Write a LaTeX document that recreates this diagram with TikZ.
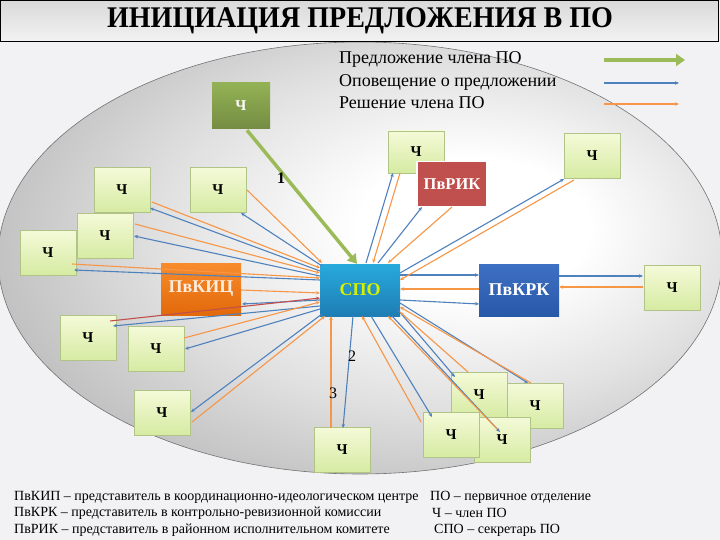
\documentclass[tikz,border=0pt]{standalone}
\usepackage{fontspec}
\setmainfont{Liberation Serif}
\usetikzlibrary{calc,arrows.meta,shadings}
\definecolor{bgc}{HTML}{F2F2F4}
\definecolor{ogreen}{HTML}{9BBB59}
\definecolor{oblue}{HTML}{4F81BD}
\definecolor{oorange}{HTML}{F79646}
\definecolor{ored}{HTML}{C0504D}
\definecolor{boxtop}{HTML}{F4FAD8}
\definecolor{boxbot}{HTML}{D6EBA2}
\definecolor{boxdraw}{HTML}{AFC486}
\definecolor{spotext}{HTML}{D8F000}
\definecolor{spotop}{RGB}{40,170,220}
\definecolor{spobot}{RGB}{30,125,180}
\definecolor{kictop}{RGB}{248,140,45}
\definecolor{kicbot}{RGB}{226,105,10}
\definecolor{kictext}{RGB}{255,236,220}
\definecolor{krktop}{RGB}{62,112,195}
\definecolor{krkbot}{RGB}{40,88,168}
\pgfdeclareradialshading{ellsh}{\pgfpoint{9bp}{4bp}}{color(0bp)=(white); color(8bp)=(white); color(20bp)=(black!12); color(30bp)=(black!24); color(40bp)=(black!32); color(50bp)=(black!38); color(62bp)=(black!41)}
\tikzset{
 chbox/.style={draw=boxdraw, top color=boxtop, bottom color=boxbot, minimum width=56pt, minimum height=45pt, inner sep=0pt, font=\fontsize{15}{15}\selectfont\bfseries},
 bigbox/.style={minimum width=80pt, minimum height=52pt, inner sep=0pt, font=\fontsize{18}{18}\selectfont\bfseries},
 bl/.style={draw=oblue, line width=1.1pt, -{Stealth[length=4pt,width=3.5pt]}},
 orr/.style={draw=oorange, line width=1.1pt, -{Stealth[length=4pt,width=3.5pt]}},
 rd/.style={draw=ored, line width=1.1pt, -{Stealth[length=4pt,width=3.5pt]}},
 legtext/.style={anchor=west, inner sep=0pt, font=\fontsize{18}{18}\selectfont},
 foot/.style={anchor=west, inner sep=0pt, font=\fontsize{14}{14}\selectfont},
 numlab/.style={inner sep=0pt, font=\fontsize{16}{16}\selectfont}
}
\begin{document}
\begin{tikzpicture}[x=1pt,y=-1pt]
\useasboundingbox (0,0) rectangle (720,540);
\fill[bgc] (0,0) rectangle (720,540);
% ellipse
\shade[shading=ellsh] (360,258) ellipse [x radius=362, y radius=216];
\draw[black!55, line width=0.6pt] (360,258) ellipse [x radius=362, y radius=216];
% title bar
\shade[top color=gray!30, bottom color=gray!10] (0,0) rectangle (718,41);
\draw[black, line width=0.8pt] (0,0) rectangle (718,41);
\node[inner sep=0pt, xscale=0.935, transform shape, font=\fontsize{30}{30}\selectfont\bfseries] (title) at (360,21) {ИНИЦИАЦИЯ ПРЕДЛОЖЕНИЯ В ПО};

% legend
\node[legtext] (l1) at (339,59) {Предложение члена ПО};
\node[legtext] (l2) at (339,82) {Оповещение о предложении};
\node[legtext] (l3) at (339,103) {Решение члена ПО};
\coordinate (a1s) at (604,60); \coordinate (a1e) at (685,60);
\coordinate (a2s) at (604,83); \coordinate (a2e) at (679,83);
\coordinate (a3s) at (604,104); \coordinate (a3e) at (679,104);
\draw[draw=ogreen, line width=4pt, -{Triangle[length=9pt,width=12pt]}] (a1s) -- (a1e);
\draw[bl] (a2s) -- (a2e);
\draw[orr] (a3s) -- (a3e);

% boxes
\node[chbox] (A) at (122,190) {Ч};
\node[chbox] (B) at (218,190) {Ч};
\node[chbox] (D) at (48,253) {Ч};
\node[chbox] (C) at (105,236) {Ч};
\node[chbox] (E) at (88,338) {Ч};
\node[chbox] (F) at (156,349) {Ч};
\node[chbox] (G) at (162,413) {Ч};
\node[chbox] (H) at (342,450) {Ч};
\node[chbox] (K) at (535,406) {Ч};
\node[chbox] (J) at (479,395) {Ч};
\node[chbox] (L) at (502,440) {Ч};
\node[chbox] (I) at (451,435) {Ч};
\node[chbox, minimum height=42pt] (topc) at (416,152) {Ч};
\node[chbox] (tr) at (592,156) {Ч};
\node[chbox] (R) at (672,288) {Ч};
\node[chbox, draw=none, top color=ogreen!95!black, bottom color=ogreen!75!black, text=white, minimum width=58pt, minimum height=46pt] (g0) at (241,106) {Ч};
\node[bigbox, top color=spotop, bottom color=spobot, text=spotext] (spo) at (360,290) {СПО};
\node[bigbox, top color=kictop, bottom color=kicbot, text=kictext] (kic) at (201,289) {ПвКИЦ};
\node[bigbox, top color=krktop, bottom color=krkbot, text=white] (krk) at (519,290) {ПвКРК};
\node[bigbox, fill=ored, draw=white, line width=1.5pt, text=white, minimum width=70pt, minimum height=45pt, font=\fontsize{16.5}{16.5}\selectfont\bfseries] (rik) at (452,184) {ПвРИК};

% blue connectors (notification)
\draw[bl] ($(spo)+(-40,-19)$) -- ($(A)+(28,18)$);
\draw[bl] ($(spo)+(-38,-24)$) -- ($(B)+(23,23)$);
\draw[bl] ($(spo)+(-40,-14)$) -- ($(C)+(29,0)$);
\draw[bl] ($(spo)+(-40,-10)$) -- ($(D)+(26,17)$);
\draw[bl] ($(spo)+(-40,10)$) -- ($(kic)+(41,15)$);
\draw[bl] ($(spo)+(-40,16)$) -- ($(E)+(25,-12)$);
\draw[bl] ($(spo)+(-40,19)$) -- ($(F)+(29,0)$);
\draw[bl] ($(spo)+(-38,24)$) -- ($(G)+(29,-1)$);
\draw[bl] ($(spo)+(-7,26)$) -- ($(H)+(1,-22)$);
\draw[bl] ($(spo)+(11,26)$) -- ($(I)+(-19,-18)$);
\draw[bl] ($(spo)+(38,20)$) -- ($(J)+(-24,-18)$);
\draw[bl] ($(spo)+(40,13)$) -- ($(K)+(-7,-23)$);
\draw[bl] ($(spo)+(32,26)$) -- ($(L)+(-2,-8)$);
\draw[bl] ($(spo)+(40,10)$) -- ($(krk)+(-40,14)$);
\draw[bl] ($(spo)+(40,-15)$) -- ($(krk)+(-40,-15)$);
\draw[bl] ($(spo)+(40,-17)$) -- ($(tr)+(-28,23)$);
\draw[bl] ($(spo)+(18,-27)$) -- ($(rik)+(-30,23)$);
\draw[bl] ($(spo)+(6,-27)$) -- ($(topc)+(-23,21)$);
\draw[bl] ($(krk)+(40,-14)$) -- ($(R)+(-29,-12)$);

% orange connectors (decision)
\draw[orr] ($(A)+(30,12)$) -- ($(spo)+(-40,-22)$);
\draw[orr] ($(B)+(29,0)$) -- ($(spo)+(-38,-27)$);
\draw[orr] ($(C)+(30,-12)$) -- ($(spo)+(-40,-17)$);
\draw[orr] ($(D)+(24,11)$) -- ($(spo)+(-40,-12)$);
\draw[orr] ($(kic)+(40,1)$) -- ($(spo)+(-40,3)$);
\draw[rd] ($(E)+(22,-17)$) -- ($(spo)+(-40,8)$);
\draw[orr] ($(F)+(28,-11)$) -- ($(spo)+(-40,12)$);
\draw[orr] ($(G)+(30,9)$) -- ($(spo)+(-35,26)$);
\draw[orr] ($(H)+(-11,-22)$) -- ($(spo)+(-29,26)$);
\draw[orr] ($(I)+(-30,-13)$) -- ($(spo)+(2,26)$);
\draw[orr] ($(J)+(-11,-23)$) -- ($(spo)+(40,22)$);
\draw[orr] ($(K)+(-4,-23)$) -- ($(spo)+(40,17)$);
\draw[orr] ($(L)+(-5,-11)$) -- ($(spo)+(28,26)$);
\draw[orr] ($(krk)+(-40,-1)$) -- ($(spo)+(40,-1)$);
\draw[orr] ($(tr)+(-18,24)$) -- ($(spo)+(40,-10)$);
\draw[orr] ($(rik)+(0,23)$) -- ($(spo)+(28,-27)$);
\draw[orr] ($(topc)+(-16,21)$) -- ($(spo)+(13,-27)$);
\draw[orr] ($(R)+(-29,-1)$) -- ($(krk)+(40,-3)$);

% green proposal arrow
\draw[draw=ogreen, line width=3.5pt, -{Triangle[length=9pt,width=11pt]}] ($(g0.south)+(6,1)$) -- ($(spo.north)+(-3,0)$);

% numbers
\node[numlab, font=\fontsize{16}{16}\selectfont\bfseries] (n1) at (281,178) {1};
\node[numlab] (n2) at (352,356) {2};
\node[numlab] (n3) at (333,393) {3};

% footnotes
\node[foot] (f1) at (14,497) {ПвКИП – представитель в координационно-идеологическом центре};
\node[foot] (f2) at (14,513) {ПвКРК – представитель в контрольно-ревизионной комиссии};
\node[foot] (f3) at (14,530) {ПвРИК – представитель в районном исполнительном комитете};
\node[foot] (f4) at (430,497) {ПО – первичное отделение};
\node[foot] (f5) at (432,513) {Ч – член ПО};
\node[foot] (f6) at (434,530) {СПО – секретарь ПО};
\end{tikzpicture}
\end{document}
